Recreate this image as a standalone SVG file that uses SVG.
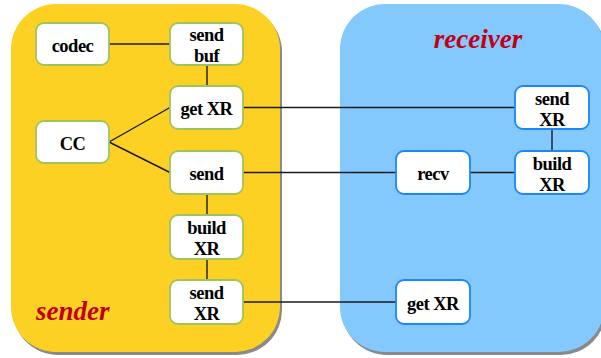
<svg xmlns="http://www.w3.org/2000/svg" width="601" height="358" viewBox="0 0 601 358">
<style>
.shadow{fill:#8a8a8a}
.snd{fill:#fdd123}
.rcv{fill:#84c9fd}
.ns rect{fill:#fff;stroke:#a0c45c;stroke-width:1.8}
.nr rect{fill:#fff;stroke:#1a88f5;stroke-width:1.8}
.lbl{font-family:"Liberation Serif",serif;font-weight:bold;font-size:18.5px;letter-spacing:-0.5px;fill:#000;text-anchor:middle}
.title{font-family:"Liberation Serif",serif;font-weight:bold;font-style:italic;font-size:27px;fill:#c00018}
#connectors line{stroke:#1a1a1a;stroke-width:1.4}
</style>
<rect width="601" height="358" fill="#fff"/>
<g id="sender-panel">
<rect class="shadow" x="13" y="7" width="269" height="348" rx="45"/>
<rect class="snd" x="11" y="4" width="269" height="348" rx="45"/>
<text class="title" x="36" y="320">sender</text>
</g>
<g id="receiver-panel">
<rect class="shadow" x="342" y="7" width="264" height="348" rx="45"/>
<rect class="rcv" x="340" y="4" width="264" height="348" rx="45"/>
<text class="title" x="478" y="48" text-anchor="middle">receiver</text>
</g>
<g id="connectors">
<line x1="109" y1="44" x2="170" y2="44"/>
<line x1="207" y1="65" x2="207" y2="86"/>
<line x1="109" y1="142" x2="170" y2="107.5"/>
<line x1="109" y1="142" x2="170" y2="172.5"/>
<line x1="243" y1="107.5" x2="515" y2="107.5"/>
<line x1="243" y1="172.5" x2="396" y2="172.5"/>
<line x1="470" y1="172.5" x2="515" y2="172.5"/>
<line x1="552" y1="129" x2="552" y2="151"/>
<line x1="207" y1="194" x2="207" y2="215"/>
<line x1="207" y1="259" x2="207" y2="280"/>
<line x1="243" y1="302" x2="396" y2="302"/>
</g>
<g id="codec" class="ns"><rect x="36" y="23" width="73" height="42" rx="8"/><text class="lbl" x="72.5" y="51.5">codec</text></g>
<g id="send-buf" class="ns"><rect x="170" y="23" width="73" height="42" rx="8"/><text class="lbl" x="206.5" y="40.5">send</text><text class="lbl" x="206.5" y="61.5">buf</text></g>
<g id="get-xr-s" class="ns"><rect x="170" y="86" width="73" height="43" rx="8"/><text class="lbl" x="206.5" y="115">get XR</text></g>
<g id="cc" class="ns"><rect x="36" y="121" width="73" height="42" rx="8"/><text class="lbl" x="72.5" y="149.5">CC</text></g>
<g id="send" class="ns"><rect x="170" y="151" width="73" height="43" rx="8"/><text class="lbl" x="206.5" y="180">send</text></g>
<g id="build-xr-s" class="ns"><rect x="170" y="215" width="73" height="44" rx="8"/><text class="lbl" x="206.5" y="234">build</text><text class="lbl" x="206.5" y="255">XR</text></g>
<g id="send-xr-s" class="ns"><rect x="170" y="280" width="73" height="44" rx="8"/><text class="lbl" x="206.5" y="299">send</text><text class="lbl" x="206.5" y="320">XR</text></g>
<g id="send-xr-r" class="nr"><rect x="515" y="86" width="74" height="43" rx="8"/><text class="lbl" x="552" y="104.5">send</text><text class="lbl" x="552" y="125.5">XR</text></g>
<g id="build-xr-r" class="nr"><rect x="515" y="151" width="74" height="43" rx="8"/><text class="lbl" x="552" y="169.5">build</text><text class="lbl" x="552" y="190.5">XR</text></g>
<g id="recv" class="nr"><rect x="396" y="151" width="74" height="43" rx="8"/><text class="lbl" x="433" y="180">recv</text></g>
<g id="get-xr-r" class="nr"><rect x="396" y="280" width="74" height="44" rx="8"/><text class="lbl" x="433" y="309.5">get XR</text></g>
</svg>
